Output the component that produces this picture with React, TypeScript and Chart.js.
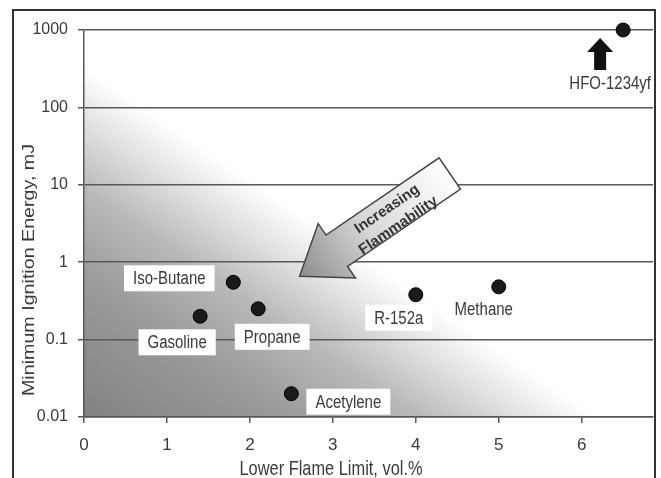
import React, { useEffect, useRef } from 'react';
import { Chart, registerables } from 'chart.js';

Chart.register(...registerables);

// ---- data ----
const compounds = ['Gasoline', 'Iso-Butane', 'Propane', 'Acetylene', 'R-152a', 'Methane', 'HFO-1234yf'];
const lowerFlameLimit = [1.4, 1.8, 2.1, 2.5, 4.0, 5.0, 6.5];
const minIgnitionEnergy = [0.2, 0.55, 0.25, 0.02, 0.38, 0.48, 1000];
const xTickValues = [0, 1, 2, 3, 4, 5, 6];
const yTickValues = [0.01, 0.1, 1, 10, 100, 1000];
const xAxisTitle = 'Lower Flame Limit, vol.%';
const yAxisTitle = 'Minimum Ignition Energy, mJ';
const arrowText = ['Increasing', 'Flammability'];
const arrowTipData = { x: 2.6, y: 0.66 };
const arrowTailData = { x: 4.41, y: 14 };

// ---- styling / label placement (pixel offsets from each point) ----
const labelOffsets: [number, number][] = [
  [-23, 26], [-64, -4], [14, 28], [57, 8], [-17, 23], [-15, 22], [-13, 53],
];
const FONT = '"Liberation Sans", Arial, sans-serif';
const TEXT = '#3a3a3a';
const GRID = '#585858';
const STRETCH = 1.2; // reference text is vertically stretched

function drawText(ctx: CanvasRenderingContext2D, text: string, x: number, y: number, size: number, vertical = false) {
  ctx.save();
  ctx.translate(x, y);
  if (vertical) {
    ctx.rotate(-Math.PI / 2);
    ctx.scale(STRETCH, 1);
  } else {
    ctx.scale(1, STRETCH);
  }
  ctx.font = `${size}px ${FONT}`;
  ctx.textAlign = 'center';
  ctx.textBaseline = 'middle';
  ctx.fillText(text, 0, 0);
  ctx.restore();
}

const App: React.FC = () => {
  const ref = useRef<HTMLCanvasElement | null>(null);

  useEffect(() => {
    if (!ref.current) return;

    const bgPlugin = {
      id: 'bg',
      beforeDraw(chart: any) {
        const { ctx, chartArea: a } = chart;
        ctx.save();
        ctx.fillStyle = '#ffffff';
        ctx.fillRect(0, 0, chart.width, chart.height);
        const nx = 0.563, ny = -0.826, d = 290;
        const g = ctx.createLinearGradient(a.left, a.bottom, a.left + nx * d, a.bottom + ny * d);
        g.addColorStop(0, '#828282');
        g.addColorStop(0.4, '#9b9b9b');
        g.addColorStop(0.65, '#b9b9b9');
        g.addColorStop(0.85, '#e2e2e2');
        g.addColorStop(1, '#ffffff');
        ctx.fillStyle = g;
        ctx.fillRect(a.left, a.top, a.right - a.left, a.bottom - a.top);
        ctx.restore();
      },
    };

    const annoPlugin = {
      id: 'anno',
      beforeDatasetsDraw(chart: any) {
        const { ctx } = chart;
        const xs = chart.scales.x, ys = chart.scales.y;
        ctx.save();
        const tx = xs.getPixelForValue(arrowTipData.x), ty = ys.getPixelForValue(arrowTipData.y);
        const ex = xs.getPixelForValue(arrowTailData.x), ey = ys.getPixelForValue(arrowTailData.y);
        const L = Math.hypot(ex - tx, ey - ty);
        const dx = (ex - tx) / L, dy = (ey - ty) / L;
        const px = -dy, py = dx;
        const headLen = 45, headHalf = 33, shaftHalf = 19;
        const P = (along: number, perp: number) => [tx + dx * along + px * perp, ty + dy * along + py * perp];
        const pts = [
          P(0, 0), P(headLen, headHalf), P(headLen, shaftHalf), P(L, shaftHalf),
          P(L, -shaftHalf), P(headLen, -shaftHalf), P(headLen, -headHalf),
        ];
        const g = ctx.createLinearGradient(tx, ty, ex, ey);
        g.addColorStop(0, '#8c8c8c');
        g.addColorStop(0.45, '#d6d6d6');
        g.addColorStop(1, '#ffffff');
        ctx.beginPath();
        pts.forEach((p, i) => (i ? ctx.lineTo(p[0], p[1]) : ctx.moveTo(p[0], p[1])));
        ctx.closePath();
        ctx.fillStyle = g;
        ctx.fill();
        ctx.strokeStyle = '#444';
        ctx.lineWidth = 1.5;
        ctx.stroke();
        const c = P(110, 4);
        ctx.translate(c[0], c[1]);
        ctx.rotate(Math.atan2(dy, dx));
        ctx.fillStyle = '#333';
        ctx.font = `bold 15px ${FONT}`;
        ctx.textAlign = 'center';
        ctx.textBaseline = 'middle';
        ctx.fillText(arrowText[0], 0, -10);
        ctx.fillText(arrowText[1], 0, 10);
        ctx.restore();

        // point labels with white boxes
        ctx.save();
        compounds.forEach((name, i) => {
          const x = xs.getPixelForValue(lowerFlameLimit[i]) + labelOffsets[i][0];
          const y = ys.getPixelForValue(minIgnitionEnergy[i]) + labelOffsets[i][1];
          ctx.font = `15px ${FONT}`;
          const w = ctx.measureText(name).width + 18;
          const h = 26;
          ctx.fillStyle = '#ffffff';
          ctx.fillRect(x - w / 2, y - h / 2, w, h);
          ctx.fillStyle = TEXT;
          drawText(ctx, name, x, y + 1, 15);
        });
        ctx.restore();

        // black up-arrow under HFO-1234yf
        const hi = compounds.length - 1;
        const hx = xs.getPixelForValue(lowerFlameLimit[hi]) - 23;
        const hy = ys.getPixelForValue(minIgnitionEnergy[hi]);
        ctx.save();
        ctx.fillStyle = '#111';
        ctx.beginPath();
        ctx.moveTo(hx, hy + 8);
        ctx.lineTo(hx + 13, hy + 22);
        ctx.lineTo(hx + 6, hy + 22);
        ctx.lineTo(hx + 6, hy + 40);
        ctx.lineTo(hx - 6, hy + 40);
        ctx.lineTo(hx - 6, hy + 22);
        ctx.lineTo(hx - 13, hy + 22);
        ctx.closePath();
        ctx.fill();
        ctx.restore();
      },
      afterDraw(chart: any) {
        const { ctx } = chart;
        ctx.save();
        ctx.fillStyle = TEXT;
        drawText(ctx, xAxisTitle, 331, 470, 16.4);
        drawText(ctx, yAxisTitle, 29, 270, 16.4, true);
        ctx.strokeStyle = '#333';
        ctx.lineWidth = 2;
        ctx.strokeRect(13, 10, 642, 600);
        ctx.restore();
      },
    };

    const chart = new Chart(ref.current, {
      type: 'scatter',
      data: {
        datasets: [
          {
            data: lowerFlameLimit.map((x, i) => ({ x, y: minIgnitionEnergy[i] })),
            pointRadius: 7,
            pointHoverRadius: 7,
            backgroundColor: '#1a1a1a',
            borderColor: '#000',
            borderWidth: 1,
            clip: false as any,
          },
        ],
      },
      options: {
        responsive: false,
        animation: false,
        layout: { padding: { top: 30, right: 6, left: 0, bottom: 0 } },
        plugins: { legend: { display: false }, tooltip: { enabled: false } },
        scales: {
          x: {
            type: 'linear',
            min: 0,
            max: 6.86,
            afterBuildTicks: (s: any) => { s.ticks = xTickValues.map((v) => ({ value: v })); },
            afterFit: (s: any) => { s.height = 61; },
            ticks: { font: { size: 17, family: FONT }, color: TEXT, padding: 12, maxRotation: 0, autoSkip: false },
            grid: { drawOnChartArea: false, drawTicks: true, tickLength: 6, color: GRID, lineWidth: 1.5 },
            border: { display: true, color: GRID, width: 1.5 },
            title: { display: false, text: xAxisTitle },
          },
          y: {
            type: 'logarithmic',
            min: 0.01,
            max: 1000,
            afterBuildTicks: (s: any) => { s.ticks = yTickValues.map((v) => ({ value: v })); },
            afterFit: (s: any) => { s.width = 84; },
            ticks: { font: { size: 16, family: FONT }, color: TEXT, padding: 10, autoSkip: false, callback: (v: any) => String(v) },
            grid: { drawTicks: true, tickLength: 6, color: GRID, lineWidth: 1.5 },
            border: { display: true, color: GRID, width: 1.5 },
            title: { display: false, text: yAxisTitle },
          },
        },
      } as any,
      plugins: [bgPlugin, annoPlugin],
    });
    return () => chart.destroy();
  }, []);

  return (
    <div style={{ position: 'fixed', left: 0, top: 0, width: 661, height: 478, overflow: 'hidden', background: '#fff' }}>
      <canvas ref={ref} width={661} height={478} style={{ display: 'block', width: 661, height: 478 }} />
    </div>
  );
};

export default App;
